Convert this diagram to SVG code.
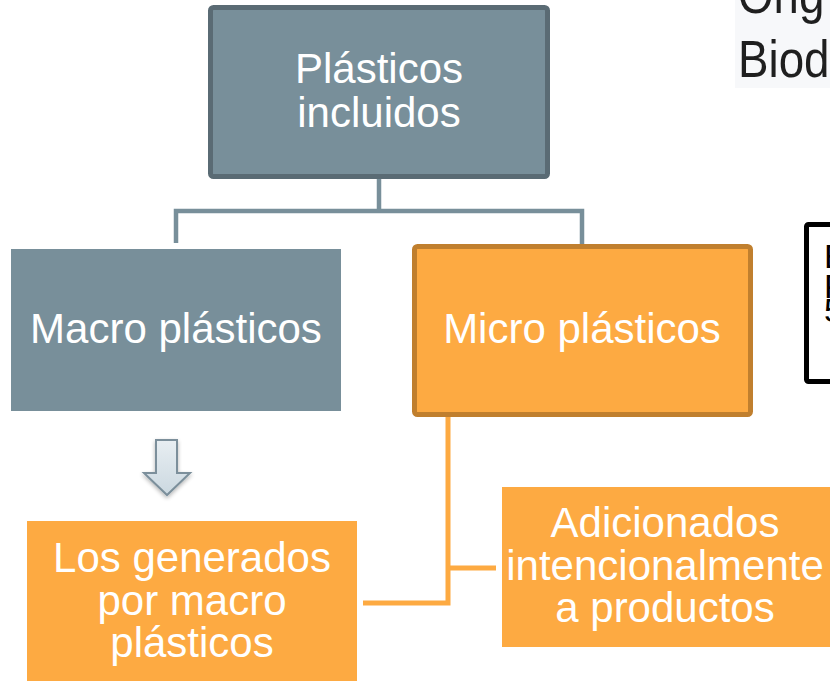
<svg xmlns="http://www.w3.org/2000/svg" width="830" height="681" viewBox="0 0 830 681">
<style>
.t{font-family:"Liberation Sans",Arial,sans-serif;font-size:42px;fill:#ffffff;text-anchor:middle}
.gray{fill:#788f9a}
.orange{fill:#fdaa42}
.gl{fill:none;stroke:#788f9a;stroke-width:4.5}
.ol{fill:none;stroke:#fdaa42;stroke-width:5}
.dk{font-family:"Liberation Sans",Arial,sans-serif;fill:#1f1f1f}
.bk{font-family:"Liberation Sans",Arial,sans-serif;font-size:34px;fill:#000000}
</style>
<defs>
<linearGradient id="ag" x1="0" y1="0" x2="0" y2="1">
<stop offset="0" stop-color="#e8eef2"/>
<stop offset="1" stop-color="#cbd8e0"/>
</linearGradient>
<filter id="sh" x="-30%" y="-30%" width="160%" height="160%">
<feGaussianBlur in="SourceAlpha" stdDeviation="2"/>
<feOffset dx="0" dy="2" result="b"/>
<feComponentTransfer><feFuncA type="linear" slope="0.3"/></feComponentTransfer>
<feMerge><feMergeNode/><feMergeNode in="SourceGraphic"/></feMerge>
</filter>
</defs>

<g id="note-top">
<rect x="735" y="0" width="95" height="88" fill="#f7f8fa"/>
<text class="dk" font-size="52" transform="translate(738,13) scale(0.88,1)">Orig</text>
<text class="dk" font-size="52" transform="translate(738,77) scale(0.88,1)">Biod</text>
</g>

<g id="note-box">
<rect x="806.5" y="224.5" width="40" height="157" fill="#ffffff" stroke="#000000" stroke-width="5" rx="2"/>
<text class="bk" x="824" y="268">E</text>
<text class="bk" x="824" y="298">P</text>
<text class="bk" x="824" y="322">5</text>
</g>

<g id="connectors">
<path class="gl" d="M379,178 V211 M176,243 V211 H582 V246"/>
<path class="ol" d="M448,416 V603 H363 M448,568 H496"/>
</g>

<g id="plasticos-incluidos">
<rect x="210.5" y="7.5" width="337" height="169" rx="3" class="gray" stroke="#5a6b74" stroke-width="5"/>
<text class="t" x="379" y="83">Plásticos</text>
<text class="t" x="379" y="127">incluidos</text>
</g>

<g id="macro">
<rect x="11" y="249" width="330" height="162" class="gray"/>
<text class="t" x="176" y="343">Macro plásticos</text>
</g>

<g id="micro">
<rect x="414.5" y="246.5" width="336" height="168" rx="3" class="orange" stroke="#c07f2e" stroke-width="5"/>
<text class="t" x="582" y="343">Micro plásticos</text>
</g>

<g id="arrow" filter="url(#sh)">
<path d="M156,440 H177 V473 H190 L167,495 L144,473 H156 Z" fill="url(#ag)" stroke="#7b8f9b" stroke-width="2" stroke-linejoin="miter"/>
</g>

<g id="generados">
<rect x="27" y="521" width="330" height="170" class="orange"/>
<text class="t" x="192" y="572">Los generados</text>
<text class="t" x="192" y="615">por macro</text>
<text class="t" x="192" y="657">plásticos</text>
</g>

<g id="adicionados">
<rect x="502" y="487" width="328" height="160" class="orange"/>
<text class="t" x="665" y="537">Adicionados</text>
<text class="t" x="665" y="580">intencionalmente</text>
<text class="t" x="665" y="622">a productos</text>
</g>
</svg>
